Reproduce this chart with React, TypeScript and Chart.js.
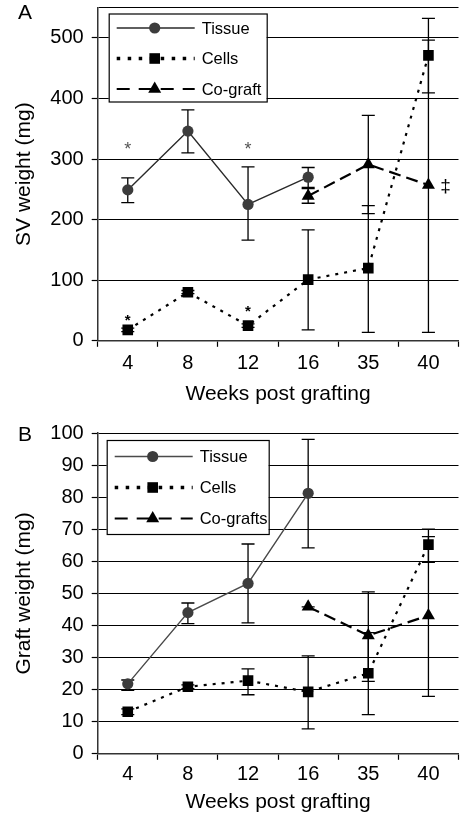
import React, { useEffect, useRef } from 'react';
import { Chart, registerables } from 'chart.js';

Chart.register(...registerables);

type V = number | null;

// ---------- shared categories ----------
const weeks = ['4', '8', '12', '16', '35', '40'];

// ---------- Panel A : SV weight (mg) ----------
const svNames = ['Tissue', 'Cells', 'Co-graft'];
const svTissue: V[] = [249, 346, 225, 270, null, null];
const svTissueLow: V[] = [228, 310, 166, 253, null, null];
const svTissueHigh: V[] = [269, 381, 287, 286, null, null];
const svCells: V[] = [18, 80, 25, 101, 120, 471];
const svCellsLow: V[] = [15, 78, 22, 18, 14, 409];
const svCellsHigh: V[] = [21, 83, 28, 183, 223, 532];
const svCograft: V[] = [null, null, null, 239, 291, 257];
const svCograftLow: V[] = [null, null, null, 227, 210, 14];
const svCograftHigh: V[] = [null, null, null, 251, 372, 496];
const svTickValues = [0, 100, 200, 300, 400, 500, 550];
const svTickLabels = [0, 100, 200, 300, 400, 500];
const svNoteText = ['*', '*', '*', '*', '\u2021'];
const svNoteSeries = [0, 0, 1, 1, 2];
const svNoteIndex = [0, 2, 0, 2, 5];
const svNoteValue = [315, 315, 33, 47, 255];

// ---------- Panel B : Graft weight (mg) ----------
const gNames = ['Tissue', 'Cells', 'Co-grafts'];
const gTissue: V[] = [21.8, 44, 53.1, 81.2, null, null];
const gTissueLow: V[] = [19.8, 40.6, 40.8, 64.2, null, null];
const gTissueHigh: V[] = [23, 47, 65.4, 98, null, null];
const gCells: V[] = [13.1, 20.9, 22.8, 19.3, 25.1, 65.2];
const gCellsLow: V[] = [12.2, 20.3, 18.4, 7.8, 12.2, 59.7];
const gCellsHigh: V[] = [14, 21.5, 26.5, 30.5, 37.8, 67.7];
const gCograft: V[] = [null, null, null, 45.8, 36.9, 43.1];
const gCograftLow: V[] = [null, null, null, 45.8, 22.6, 17.9];
const gCograftHigh: V[] = [null, null, null, 45.8, 50.5, 70];
const gTickValues = [0, 10, 20, 30, 40, 50, 60, 70, 80, 90, 100];
const gTickLabels = [0, 10, 20, 30, 40, 50, 60, 70, 80, 90, 100];

const FONT = '"Liberation Sans", Arial, Helvetica, sans-serif';
const TICK_FONT = 20;
const TITLE_FONT = 21;
const LEGEND_FONT = 16.5;

type SeriesStyle = {
  fill: string;
  width: number;
  dash: number[];
  point: string;
  r: number;
  legendDash: number[];
  legendWidth: number;
};

const seriesStyle: SeriesStyle[] = [
  { fill: '#3c3c3c', width: 1.4, dash: [], point: 'circle', r: 5.6, legendDash: [], legendWidth: 1.3 },
  { fill: '#000000', width: 2.2, dash: [3, 6], point: 'rect', r: 7.5, legendDash: [3.5, 7.5], legendWidth: 3.5 },
  { fill: '#000000', width: 2.2, dash: [12, 6], point: 'triangle', r: 7.5, legendDash: [13, 9], legendWidth: 2 },
];

function drawMarker(ctx: CanvasRenderingContext2D, style: string, x: number, y: number, r: number, color: string) {
  ctx.save();
  ctx.setLineDash([]);
  ctx.fillStyle = color;
  ctx.beginPath();
  if (style === 'circle') {
    ctx.arc(x, y, r, 0, Math.PI * 2);
  } else if (style === 'rect') {
    const s = r * Math.SQRT1_2;
    ctx.rect(x - s, y - s, 2 * s, 2 * s);
  } else {
    let a = 0;
    ctx.moveTo(x + Math.sin(a) * r, y - Math.cos(a) * r);
    a += (2 * Math.PI) / 3;
    ctx.lineTo(x + Math.sin(a) * r, y - Math.cos(a) * r);
    a += (2 * Math.PI) / 3;
    ctx.lineTo(x + Math.sin(a) * r, y - Math.cos(a) * r);
    ctx.closePath();
  }
  ctx.fill();
  ctx.restore();
}

type LegendLayout = { dx: number; dy: number; w: number; h: number; first: number; gap: number };

type PanelProps = {
  top: number;
  height: number;
  padTop: number;
  letter: string;
  letterY: number;
  names: string[];
  values: V[][];
  lows: V[][];
  highs: V[][];
  tickValues: number[];
  tickLabels: number[];
  max: number;
  yTitle: string;
  tissueLine: string;
  legend: LegendLayout;
  titlePad: { top: number; bottom: number };
  xTickPad: number;
  notes?: { text: string[]; series: number[]; index: number[]; value: number[] };
};

function makeConfig(p: PanelProps): any {
  const datasets = p.values.map((vals, i) => {
    const s = seriesStyle[i];
    const lineColor = i === 0 ? p.tissueLine : '#000000';
    return {
      label: p.names[i],
      data: vals,
      borderColor: lineColor,
      backgroundColor: s.fill,
      borderWidth: s.width,
      borderDash: s.dash,
      pointStyle: s.point,
      pointRadius: s.r,
      pointHoverRadius: s.r,
      pointBackgroundColor: s.fill,
      pointBorderColor: s.fill,
      pointBorderWidth: 0,
      tension: 0,
      spanGaps: false,
      fill: false,
    };
  });

  const errorBars = {
    id: 'errorBars',
    beforeDatasetsDraw(chart: any) {
      const { ctx, scales } = chart;
      const x = scales.x;
      const y = scales.y;
      ctx.save();
      ctx.strokeStyle = '#000';
      ctx.lineWidth = 1.3;
      ctx.setLineDash([]);
      p.lows.forEach((lo, di) => {
        lo.forEach((l, i) => {
          const h = p.highs[di][i];
          if (l == null || h == null) return;
          const px = x.getPixelForValue(i);
          const y1 = y.getPixelForValue(l);
          const y2 = y.getPixelForValue(h);
          const cap = 6.5;
          ctx.beginPath();
          ctx.moveTo(px, y1);
          ctx.lineTo(px, y2);
          ctx.moveTo(px - cap, y1);
          ctx.lineTo(px + cap, y1);
          ctx.moveTo(px - cap, y2);
          ctx.lineTo(px + cap, y2);
          ctx.stroke();
        });
      });
      ctx.restore();
    },
  };

  const notes = {
    id: 'notes',
    afterDatasetsDraw(chart: any) {
      if (!p.notes) return;
      const { ctx, scales } = chart;
      const n = p.notes;
      ctx.save();
      ctx.textAlign = 'center';
      ctx.textBaseline = 'middle';
      n.text.forEach((t, k) => {
        let px = scales.x.getPixelForValue(n.index[k]);
        const py = scales.y.getPixelForValue(n.value[k]);
        if (n.series[k] === 0) {
          ctx.fillStyle = '#555';
          ctx.font = `18px ${FONT}`;
        } else if (n.series[k] === 1) {
          ctx.fillStyle = '#000';
          ctx.font = `bold 15px ${FONT}`;
        } else {
          ctx.fillStyle = '#000';
          ctx.font = `19px ${FONT}`;
          px += 17;
        }
        ctx.fillText(t, px, py);
      });
      ctx.restore();
    },
  };

  const legendBox = {
    id: 'legendBox',
    afterDraw(chart: any) {
      const { ctx, chartArea } = chart;
      const L = p.legend;
      const bx = chartArea.left + L.dx;
      const by = chartArea.top + L.dy;
      ctx.save();
      ctx.fillStyle = '#fff';
      ctx.fillRect(bx, by, L.w, L.h);
      ctx.strokeStyle = '#000';
      ctx.lineWidth = 1.2;
      ctx.setLineDash([]);
      ctx.strokeRect(bx + 0.5, by + 0.5, L.w, L.h);
      p.names.forEach((name, i) => {
        const s = seriesStyle[i];
        const ry = by + L.first + i * L.gap;
        ctx.save();
        ctx.strokeStyle = i === 0 ? p.tissueLine : '#000';
        ctx.lineWidth = s.legendWidth;
        ctx.setLineDash(s.legendDash);
        ctx.beginPath();
        ctx.moveTo(bx + 8, ry);
        ctx.lineTo(bx + 86, ry);
        ctx.stroke();
        ctx.restore();
        drawMarker(ctx, s.point, bx + 46, ry, s.r, s.fill);
        ctx.fillStyle = '#000';
        ctx.font = `${LEGEND_FONT}px ${FONT}`;
        ctx.textAlign = 'left';
        ctx.textBaseline = 'middle';
        ctx.fillText(name, bx + 93, ry + 1);
      });
      ctx.restore();
    },
  };

  const panelLetter = {
    id: 'panelLetter',
    afterDraw(chart: any) {
      const { ctx } = chart;
      ctx.save();
      ctx.fillStyle = '#000';
      ctx.font = `${TITLE_FONT}px ${FONT}`;
      ctx.textAlign = 'center';
      ctx.textBaseline = 'middle';
      ctx.fillText(p.letter, 25, p.letterY);
      ctx.restore();
    },
  };

  return {
    type: 'line',
    data: { labels: weeks, datasets },
    options: {
      animation: false,
      responsive: false,
      maintainAspectRatio: false,
      events: [],
      layout: { padding: { top: p.padTop, left: 0, right: 0, bottom: 0 } },
      plugins: {
        legend: { display: false },
        tooltip: { enabled: false },
        title: { display: false },
      },
      scales: {
        x: {
          type: 'category',
          offset: true,
          grid: {
            offset: true,
            drawOnChartArea: false,
            drawTicks: true,
            tickLength: 6,
            tickColor: '#000',
            tickWidth: 1.2,
          },
          border: { display: true, color: '#333', width: 1.5 },
          ticks: {
            color: '#000',
            font: { family: FONT, size: TICK_FONT },
            padding: p.xTickPad,
            maxRotation: 0,
            autoSkip: false,
          },
          title: {
            display: true,
            text: 'Weeks post grafting',
            color: '#000',
            font: { family: FONT, size: TITLE_FONT },
            padding: p.titlePad,
          },
          afterFit: (s: any) => {
            s.paddingLeft = 0;
            s.paddingRight = 0;
          },
        },
        y: {
          type: 'linear',
          min: 0,
          max: p.max,
          afterBuildTicks: (s: any) => {
            s.ticks = p.tickValues.map((v) => ({ value: v }));
          },
          grid: {
            color: '#000',
            lineWidth: 1,
            drawTicks: true,
            tickLength: 6,
            tickWidth: 1.2,
            tickColor: (c: any) =>
              c.tick && p.tickLabels.indexOf(c.tick.value) < 0 ? 'rgba(0,0,0,0)' : '#000',
          },
          border: { display: true, color: '#333', width: 1.5 },
          ticks: {
            color: '#000',
            font: { family: FONT, size: TICK_FONT },
            padding: 8,
            callback: (v: any) => (p.tickLabels.indexOf(Number(v)) >= 0 ? String(v) : ''),
          },
          title: {
            display: true,
            text: p.yTitle,
            color: '#000',
            font: { family: FONT, size: TITLE_FONT },
            padding: { top: 12, bottom: 0 },
          },
          afterFit: (s: any) => {
            s.width = 97.7;
            s.paddingTop = 0;
            s.paddingBottom = 0;
          },
        },
      },
    },
    plugins: [errorBars, notes, legendBox, panelLetter],
  };
}

function Panel(props: PanelProps) {
  const ref = useRef<HTMLCanvasElement>(null);
  useEffect(() => {
    if (!ref.current) return;
    const chart = new Chart(ref.current, makeConfig(props));
    return () => chart.destroy();
  }, []);
  return (
    <canvas
      ref={ref}
      width={466}
      height={props.height}
      style={{ position: 'absolute', left: 0, top: props.top, width: 466, height: props.height, display: 'block' }}
    />
  );
}

export default function App() {
  return (
    <div
      style={{
        position: 'absolute',
        left: 0,
        top: 0,
        width: 464,
        height: 815,
        overflow: 'hidden',
        background: '#fff',
      }}
    >
      <Panel
        top={0}
        height={407}
        padTop={5}
        letter="A"
        letterY={13.5}
        names={svNames}
        values={[svTissue, svCells, svCograft]}
        lows={[svTissueLow, svCellsLow, svCograftLow]}
        highs={[svTissueHigh, svCellsHigh, svCograftHigh]}
        tickValues={svTickValues}
        tickLabels={svTickLabels}
        max={550}
        yTitle="SV weight (mg)"
        tissueLine="#2a2a2a"
        legend={{ dx: 11, dy: 6, w: 158, h: 88, first: 14.5, gap: 30.5 }}
        titlePad={{ top: 1, bottom: 0 }}
        xTickPad={5}
        notes={{ text: svNoteText, series: svNoteSeries, index: svNoteIndex, value: svNoteValue }}
      />
      <Panel
        top={405}
        height={410}
        padTop={28}
        letter="B"
        letterY={30}
        names={gNames}
        values={[gTissue, gCells, gCograft]}
        lows={[gTissueLow, gCellsLow, gCograftLow]}
        highs={[gTissueHigh, gCellsHigh, gCograftHigh]}
        tickValues={gTickValues}
        tickLabels={gTickLabels}
        max={100}
        yTitle="Graft weight (mg)"
        tissueLine="#4a4a4a"
        legend={{ dx: 9, dy: 7, w: 162, h: 94, first: 16.5, gap: 31 }}
        titlePad={{ top: 0, bottom: 0 }}
        xTickPad={3}
      />
    </div>
  );
}
